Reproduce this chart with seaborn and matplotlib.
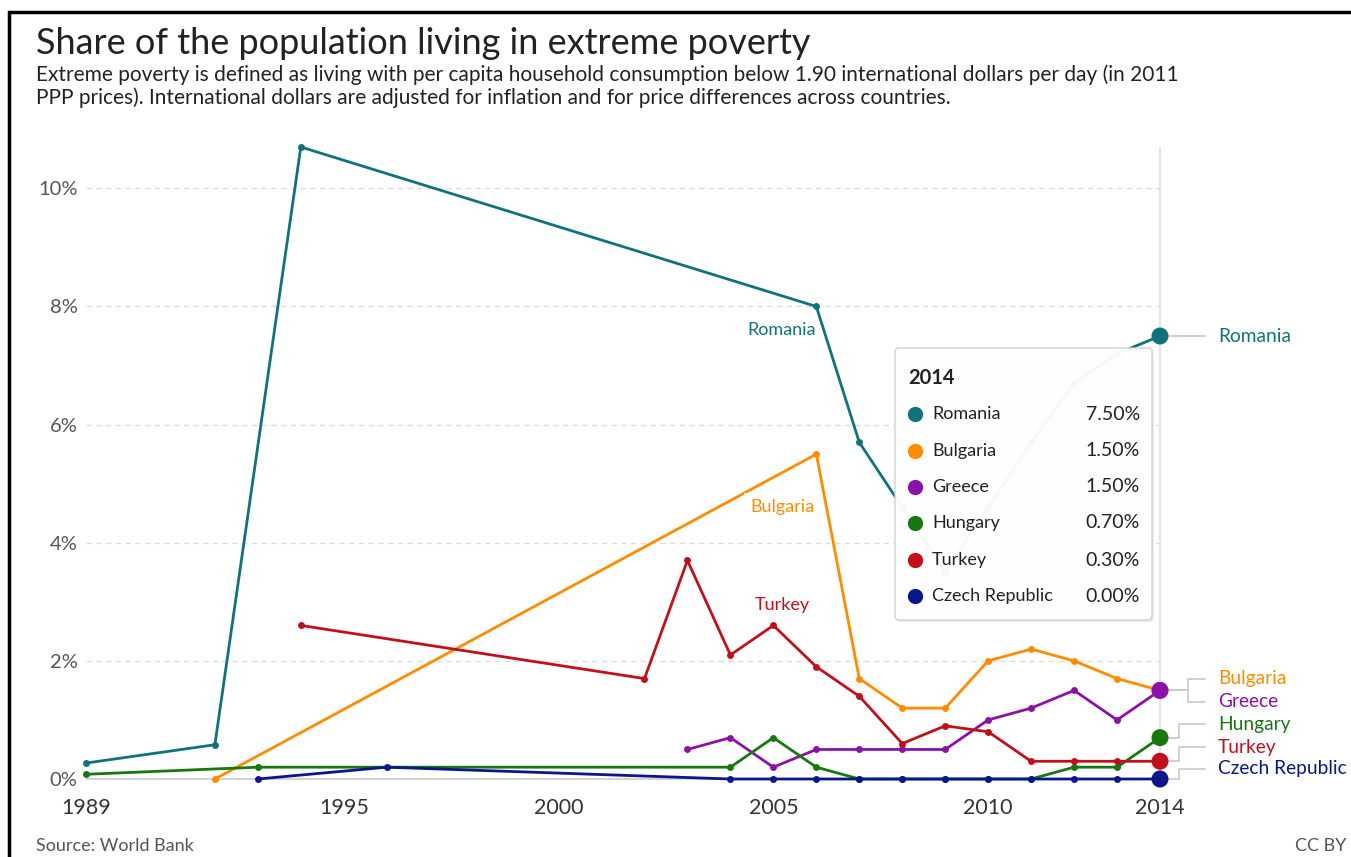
import numpy as np
import pandas as pd
import seaborn as sns
import matplotlib.pyplot as plt
from matplotlib.patches import FancyBboxPatch, Rectangle
from matplotlib.lines import Line2D
from matplotlib.transforms import IdentityTransform

# data (share of population, %)
countries = ['Romania', 'Bulgaria', 'Greece', 'Hungary', 'Turkey', 'Czech Republic']
colors = ['#10737b', '#ff8c00', '#8a12a8', '#16780f', '#c2101b', '#0a168a']

romania_years = [1989, 1992, 1994, 2006, 2007, 2008, 2009, 2010, 2011, 2012, 2013, 2014]
romania_vals = [0.27, 0.58, 10.7, 8.0, 5.7, 4.6, 3.5, 4.6, 5.7, 6.7, 7.2, 7.5]

bulgaria_years = [1992, 2006, 2007, 2008, 2009, 2010, 2011, 2012, 2013, 2014]
bulgaria_vals = [0.0, 5.5, 1.7, 1.2, 1.2, 2.0, 2.2, 2.0, 1.7, 1.5]

greece_years = [2003, 2004, 2005, 2006, 2007, 2008, 2009, 2010, 2011, 2012, 2013, 2014]
greece_vals = [0.5, 0.7, 0.2, 0.5, 0.5, 0.5, 0.5, 1.0, 1.2, 1.5, 1.0, 1.5]

hungary_years = [1989, 1993, 2004, 2005, 2006, 2007, 2008, 2009, 2010, 2011, 2012, 2013, 2014]
hungary_vals = [0.08, 0.2, 0.2, 0.7, 0.2, 0.0, 0.0, 0.0, 0.0, 0.0, 0.2, 0.2, 0.7]

turkey_years = [1994, 2002, 2003, 2004, 2005, 2006, 2007, 2008, 2009, 2010, 2011, 2012, 2013, 2014]
turkey_vals = [2.6, 1.7, 3.7, 2.1, 2.6, 1.9, 1.4, 0.6, 0.9, 0.8, 0.3, 0.3, 0.3, 0.3]

czech_years = [1993, 1996, 2004, 2005, 2006, 2007, 2008, 2009, 2010, 2011, 2012, 2013, 2014]
czech_vals = [0.0, 0.2, 0.0, 0.0, 0.0, 0.0, 0.0, 0.0, 0.0, 0.0, 0.0, 0.0, 0.0]

x_ticks = [1989, 1995, 2000, 2005, 2010, 2014]
y_ticks = [0, 2, 4, 6, 8, 10]

series = {
    'Romania': (romania_years, romania_vals),
    'Bulgaria': (bulgaria_years, bulgaria_vals),
    'Greece': (greece_years, greece_vals),
    'Hungary': (hungary_years, hungary_vals),
    'Turkey': (turkey_years, turkey_vals),
    'Czech Republic': (czech_years, czech_vals),
}
df = pd.concat([pd.DataFrame({'year': y, 'share': v, 'country': c})
                for c, (y, v) in series.items()], ignore_index=True)
last = df[df['year'] == 2014]
palette = dict(zip(countries, colors))

W, H = 1351, 857
sns.set_style('white')
plt.rcParams['font.family'] = ['Lato', 'DejaVu Sans']

fig = plt.figure(figsize=(W / 100, H / 100), dpi=100)
ax = fig.add_axes([86 / W, 1 - 779 / H, (1160 - 86) / W, (779 - 147) / H])

# grid
for yv in y_ticks[1:]:
    ax.axhline(yv, color='#dddddd', lw=1, ls=(0, (4, 3)), zorder=0)
ax.axhline(0, color='#cccccc', lw=1.2, zorder=0)
ax.axvline(2014, color='#e0e0e0', lw=1.2, zorder=0)

sns.lineplot(data=df, x='year', y='share', hue='country', hue_order=countries,
             palette=palette, marker='o', markersize=5, markeredgewidth=0,
             linewidth=2, legend=False, ax=ax, zorder=3)
sns.scatterplot(data=last, x='year', y='share', hue='country', hue_order=countries,
                palette=palette, s=150, linewidth=0, legend=False, ax=ax, zorder=4)
for art in ax.lines + ax.collections:
    art.set_clip_on(False)

ax.set_xlim(1989, 2014)
ax.set_ylim(0, 10.7)
ax.set_xticks(x_ticks)
ax.set_yticks(y_ticks)
ax.set_yticklabels([f'{t}%' for t in y_ticks])
ax.tick_params(axis='x', length=0, pad=14, labelsize=15.5, labelcolor='#333333')
ax.tick_params(axis='y', length=0, pad=6, labelsize=14.5, labelcolor='#555555')
ax.set_xlabel('')
ax.set_ylabel('')
sns.despine(ax=ax, left=True, bottom=True)

# inline labels
ax.text(2006, 7.6, 'Romania', color=palette['Romania'], fontsize=13,
        ha='right', va='center', zorder=5)
ax.text(2005.2, 4.6, 'Bulgaria', color=palette['Bulgaria'], fontsize=13,
        ha='center', va='center', zorder=5,
        bbox=dict(boxstyle='square,pad=0.35', fc='white', ec='none'))
ax.text(2005.2, 2.95, 'Turkey', color=palette['Turkey'], fontsize=13,
        ha='center', va='center', zorder=5)

# end labels with connectors
label_y = [7.5, 1.7, 1.31, 0.93, 0.54, 0.17]
for c, ly in zip(countries, label_y):
    v = series[c][1][-1]
    if abs(ly - v) < 0.01:
        xs, ys = [2014, 2015.05], [v, v]
    else:
        xe = 2014.65 if c in ('Bulgaria', 'Greece') else 2014.45
        xs, ys = [2014, xe, xe, 2015.05], [v, v, ly, ly]
    ax.plot(xs, ys, color='#c8c8c8', lw=1.2, clip_on=False, zorder=1)
    ax.text(2015.35, ly, c, color=palette[c], fontsize=13.8, ha='left',
            va='center', clip_on=False)

# tooltip-style box for 2014
px = IdentityTransform()
bx0, by0, bw, bh = 895, H - 620, 257, 272
fig.add_artist(FancyBboxPatch((bx0 + 2, by0 - 2), bw, bh, boxstyle='round,pad=0,rounding_size=4',
                              transform=px, fc='#000000', alpha=0.08, ec='none', zorder=5))
fig.add_artist(FancyBboxPatch((bx0, by0), bw, bh, boxstyle='round,pad=0,rounding_size=4',
                              transform=px, fc='white', alpha=0.96, ec='#d0d0d0', lw=1, zorder=6))
fig.text(908, H - 378, '2014', transform=px, fontsize=14.5, fontweight='bold',
         color='#222222', va='center', zorder=7)
row_y = [414, 451, 487, 523, 560, 596]
for c, ry in zip(countries, row_y):
    v = last.loc[last['country'] == c, 'share'].iloc[0]
    fig.add_artist(Line2D([915], [H - ry], marker='o', markersize=11, color=palette[c],
                          markeredgewidth=0, transform=px, zorder=7))
    fig.text(932, H - ry, c, transform=px, fontsize=13, color='#222222',
             va='center', zorder=7)
    fig.text(1140, H - ry, f'{v:.2f}%', transform=px, fontsize=14, color='#222222',
             va='center', ha='right', zorder=7)

# titles and footer
fig.text(36 / W, 1 - 43 / H, 'Share of the population living in extreme poverty',
         fontsize=26, color='#222222', va='center')
fig.text(36 / W, 1 - 75 / H,
         'Extreme poverty is defined as living with per capita household consumption below '
         '1.90 international dollars per day (in 2011',
         fontsize=15, color='#222222', va='center')
fig.text(36 / W, 1 - 98 / H,
         'PPP prices). International dollars are adjusted for inflation and for price '
         'differences across countries.',
         fontsize=15, color='#222222', va='center')
fig.text(36 / W, 1 - 846 / H, 'Source: World Bank', fontsize=13, color='#555555', va='center')
fig.text(1346 / W, 1 - 846 / H, 'CC BY', fontsize=13, color='#555555', va='center', ha='right')

# frame
fig.add_artist(Rectangle((9, -20), W + 20, H - 12 + 20, transform=px, fill=False,
                         ec='black', lw=2.5, zorder=10))

fig.savefig('out.png', dpi=100)
